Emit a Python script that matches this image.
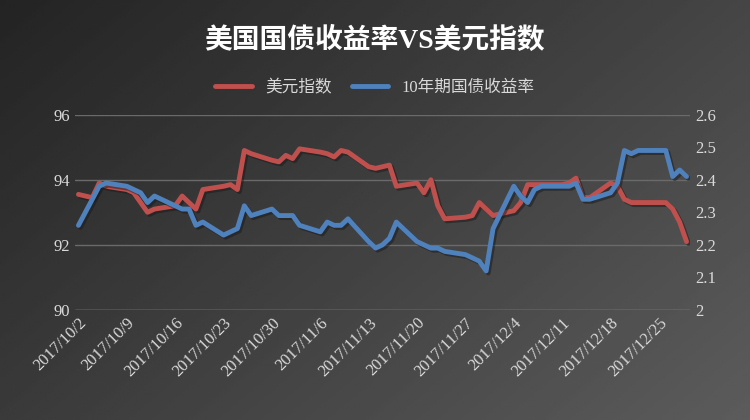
import numpy as np, pandas as pd, matplotlib
matplotlib.use("Agg")
import matplotlib.pyplot as plt, seaborn as sns
import matplotlib.patheffects as pe

dates = pd.bdate_range("2017-10-02", "2017-12-29")
dxy = [93.55,93.5,93.45,93.9,93.8, 93.7,93.6,93.3,93.0,93.1, 93.2,93.5,93.3,93.1,93.7,
       93.8,93.85,93.7,94.9,94.8, 94.6,94.55,94.75,94.65,94.95, 94.85,94.8,94.7,94.9,94.85,
       94.4,94.35,94.4,94.45,93.8, 93.9,93.6,94.0,93.2,92.8, 92.85,92.9,93.3,93.1,92.9,
       93.05,93.3,93.85,93.85,93.85, 93.85,93.9,94.05,93.45,93.45, 93.9,93.8,93.4,93.3,93.3,
       93.3,93.3,93.1,92.7,92.1]
y10 = [2.26,2.30,2.34,2.38,2.39, 2.38,2.37,2.36,2.33,2.35, 2.32,2.31,2.31,2.26,2.27,
       2.23,2.24,2.25,2.32,2.29, 2.31,2.29,2.29,2.29,2.26, 2.24,2.27,2.26,2.26,2.28,
       2.21,2.19,2.20,2.22,2.27, 2.21,2.20,2.19,2.19,2.18, 2.17,2.16,2.15,2.12,2.25,
       2.38,2.35,2.33,2.37,2.38, 2.38,2.38,2.39,2.34,2.34, 2.36,2.39,2.49,2.48,2.49,
       2.49,2.49,2.41,2.43,2.41]
df = pd.DataFrame({"date": dates, "dxy": dxy, "y10": y10})

sns.set_theme(style="white")
plt.rcParams['font.family'] = ['Liberation Serif', 'Noto Sans CJK SC']
fig = plt.figure(figsize=(7.5, 4.2), dpi=100)
bg = fig.add_axes([0, 0, 1, 1]); bg.axis("off")
gx, gy = np.meshgrid(np.linspace(0, 1, 200), np.linspace(0, 1, 200))
bg.imshow(0.14 + 0.22*(0.6*gx + 0.4*gy), cmap="gray", vmin=0, vmax=1, aspect="auto", extent=[0,1,0,1], origin="upper")
bg.set_xlim(0,1); bg.set_ylim(0,1)

ax = fig.add_axes([0.1, 0.262, 0.82, 0.465]); ax.patch.set_alpha(0)
ax2 = ax.twinx()
sh = [pe.SimpleLineShadow(offset=(1.5,-1.5), alpha=0.5), pe.Normal()]
sns.lineplot(data=df, x="date", y="dxy", ax=ax, color="#c0504d", lw=3.5, legend=False, path_effects=sh)
sns.lineplot(data=df, x="date", y="y10", ax=ax2, color="#4f81bd", lw=3.5, legend=False, path_effects=sh)
ax.set_ylim(90, 96); ax.set_yticks([90, 92, 94, 96])
ax2.set_ylim(2.0, 2.6); ax2.set_yticks(np.arange(2.0, 2.61, 0.1))
ax2.set_yticklabels(["2","2.1","2.2","2.3","2.4","2.5","2.6"])
ax.set_xlim(pd.Timestamp("2017-10-02") - pd.Timedelta(days=0.5), pd.Timestamp("2017-12-29") + pd.Timedelta(days=0.5))
ticks = pd.date_range("2017-10-02", "2017-12-25", freq="7D")
ax.set_xticks(ticks)
ax.set_xticklabels([f"{d.year}/{d.month}/{d.day}" for d in ticks], rotation=45, ha="right", rotation_mode="anchor")
for a in (ax, ax2):
    for s in a.spines.values(): s.set_visible(False)
    a.tick_params(colors="#d9d9d9", labelsize=12, length=0)
    a.set_xlabel(""); a.set_ylabel("")
ax.grid(axis="y", color="#6a6a6a", lw=1)
ax.axhline(90, color="#8a8a8a", lw=1)
fig.text(0.5, 0.905, "美国国债收益率VS美元指数", ha="center", va="center", color="white", fontsize=20, fontweight="bold")
from matplotlib.lines import Line2D
h = [Line2D([], [], color="#c0504d", lw=3.5), Line2D([], [], color="#4f81bd", lw=3.5)]
fig.legend(h, ["美元指数", "10年期国债收益率"], loc="center", bbox_to_anchor=(0.5, 0.79), ncol=2, frameon=False,
           labelcolor="#d9d9d9", fontsize=12, handlelength=2.2, columnspacing=1.2)
fig.savefig("out.png", dpi=100)
